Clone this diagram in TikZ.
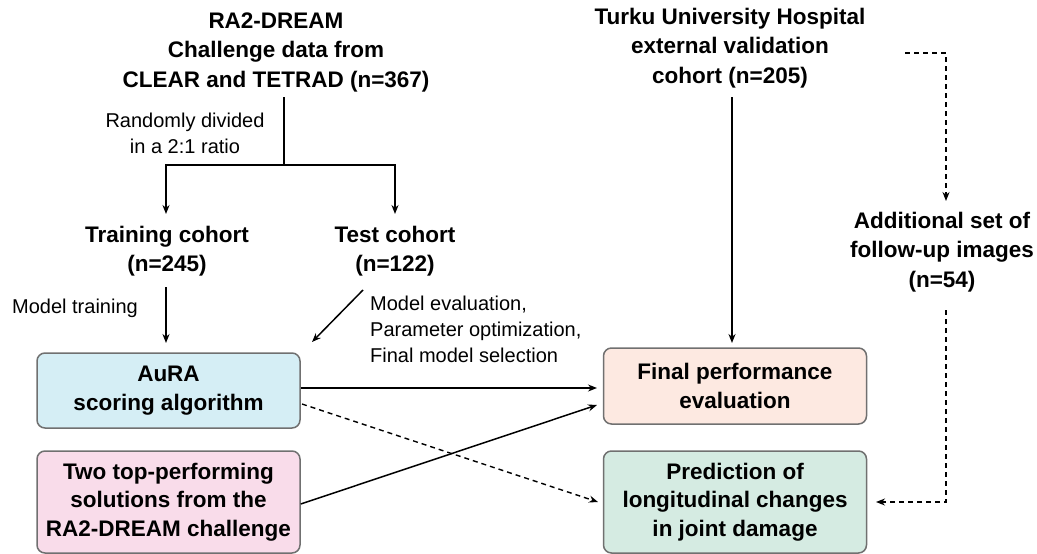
\documentclass[tikz,border=0pt]{standalone}
\usepackage{fontspec}
\setmainfont{Liberation Sans}
\usetikzlibrary{arrows.meta}
\definecolor{bxblue}{HTML}{D5EEF5}
\definecolor{bxpink}{HTML}{F9DCEA}
\definecolor{bxpeach}{HTML}{FDE9E1}
\definecolor{bxgreen}{HTML}{D5EBE2}
\definecolor{bxline}{HTML}{707070}
\begin{document}
\begin{tikzpicture}[x=1pt,y=-1pt,
  title/.style={font=\fontsize{22.5}{29.5}\selectfont\bfseries, align=center, inner sep=0pt},
  note/.style={font=\fontsize{20}{26}\selectfont, align=left, inner sep=0pt},
  card/.style={draw=bxline, line width=1.5pt, rounded corners=8pt, minimum width=263pt, align=center, font=\fontsize{22.5}{28.5}\selectfont\bfseries, inner sep=0pt},
  link/.style={line width=1.5pt, -{Stealth[length=9pt,width=7pt]}},
  dlink/.style={line width=1.4pt, dashed, dash pattern=on 5pt off 4pt, -{Stealth[length=9pt,width=7pt]}}
]
\useasboundingbox (0,0) rectangle (1037,554);

\node[title] (ra2) at (276,52) {RA2-DREAM\\Challenge data from\\CLEAR and TETRAD (n=367)};
\node[note, align=center] (rand) at (185,133) {Randomly divided\\in a 2:1 ratio};
\node[title] (train) at (167,251) {Training cohort\\(n=245)};
\node[title] (test) at (395,251) {Test cohort\\(n=122)};
\node[note] (mtrain) at (75,308) {Model training};
\node[note, anchor=west] (meval) at (370,329) {Model evaluation,\\Parameter optimization,\\Final model selection};
\node[title] (turku) at (730,48) {Turku University Hospital\\external validation\\cohort (n=205)};
\node[title] (addl) at (942,252) {Additional set of\\follow-up images\\(n=54)};

\node[card, fill=bxblue, minimum height=75pt] (aura) at (168.5,390.5) {AuRA\\scoring algorithm};
\node[card, fill=bxpink, minimum height=102pt] (two) at (168.5,502) {Two top-performing\\solutions from the\\RA2-DREAM challenge};
\node[card, fill=bxpeach, minimum height=76pt] (final) at (735,386) {Final performance\\evaluation};
\node[card, fill=bxgreen, minimum height=102pt] (pred) at (735,502) {Prediction of\\longitudinal changes\\in joint damage};

\coordinate (split) at (284,165);
\coordinate (lsplit) at (166,165);
\coordinate (rsplit) at (395,165);
\draw[line width=1.5pt] (284,97) -- (split);
\draw[link] (split) -- (lsplit) -- (166,214);
\draw[link] (split) -- (rsplit) -- (395,214);

\draw[link] (166,287) -- (166,343);
\draw[link] (363,290) -- (312,342);

\draw[link] (aura.east |- 0,388) -- (597,388);
\draw[link] (two.east |- 0,504) -- (597,405);
\draw[dlink] (302,404) -- (598,502);

\draw[link] (732,97) -- (732,343);

\coordinate (tcorner) at (946,53);
\draw[dlink] (905,53) -- (tcorner) -- (946,201);
\coordinate (bcorner) at (946,502);
\draw[dlink] (946,310) -- (bcorner) -- (876,502);
\end{tikzpicture}
\end{document}
